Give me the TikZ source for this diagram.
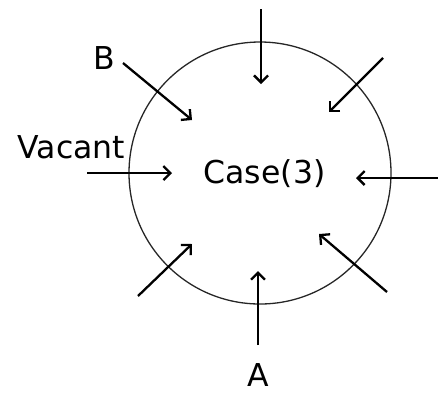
\documentclass[tikz,border=0pt]{standalone}
\usepackage{fontspec}
\setmainfont{DejaVu Sans}
\usetikzlibrary{arrows.meta}
\begin{document}
\begin{tikzpicture}[x=1pt,y=-1pt,
  lbl/.style={anchor=base,inner sep=0pt,font=\fontsize{31.5}{36}\selectfont},
  arr/.style={line width=2.3pt,-{Straight Barb[length=7pt,width=14pt,line width=2.3pt]}},
  ring/.style={draw=black!85,line width=1.3pt}]
\useasboundingbox (0,0) rectangle (438,392);
\draw[ring] (260,173) circle[radius=131];
\node[lbl] (case) at (264.5,183) {Case(3)};
\node[lbl] (vacant) at (71.5,158) {Vacant};
\node[lbl] (b) at (104.5,69) {B};
\node[lbl] (a) at (258,386) {A};
% arrows
\coordinate (t0) at (261,9);   \coordinate (t1) at (261,84);
\coordinate (tr0) at (383,58); \coordinate (tr1) at (329,112);
\coordinate (r0) at (438,178); \coordinate (r1) at (356,178);
\coordinate (br0) at (387,292);\coordinate (br1) at (319,234);
\coordinate (bo0) at (258,345);\coordinate (bo1) at (258,271);
\coordinate (bl0) at (138,296);\coordinate (bl1) at (192,244);
\coordinate (l0) at (87,173);  \coordinate (l1) at (172,173);
\coordinate (tl0) at (123,63); \coordinate (tl1) at (192,120);
\draw[arr] (t0) -- (t1);
\draw[arr] (tr0) -- (tr1);
\draw[arr] (r0) -- (r1);
\draw[arr] (br0) -- (br1);
\draw[arr] (bo0) -- (bo1);
\draw[arr] (bl0) -- (bl1);
\draw[arr] (l0) -- (l1);
\draw[arr] (tl0) -- (tl1);
\end{tikzpicture}
\end{document}
